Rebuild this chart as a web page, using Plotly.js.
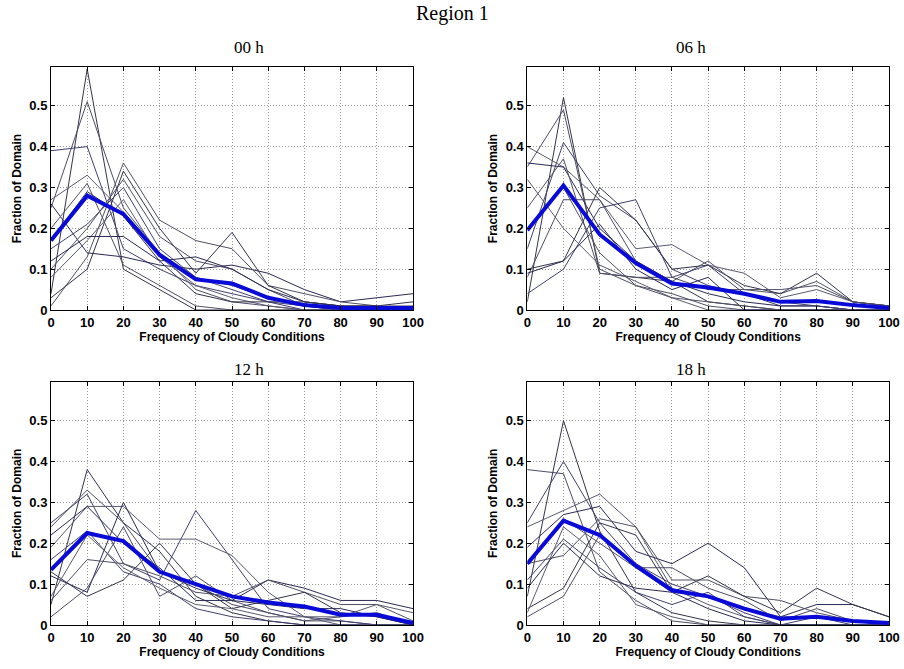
<!DOCTYPE html>
<html><head><meta charset="utf-8">
<script src="https://cdn.plot.ly/plotly-3.0.1.min.js"></script>
<style>html,body{margin:0;padding:0;background:#fff}#chart{width:904px;height:669px}</style>
</head><body><div id="chart"></div>
<script>
const xVals = [0,10,20,30,40,50,60,70,80,90,100];
const panelTitles = ["00 h","06 h","12 h","18 h"];

const lines00 = [
 [0.04,0.59,0.10,0.05,0.00,0.00,0.00,0.00,0.00,0.00,0.00],
 [0.25,0.51,0.25,0.14,0.05,0.02,0.01,0.00,0.00,0.00,0.00],
 [0.39,0.40,0.15,0.10,0.06,0.04,0.02,0.01,0.00,0.00,0.00],
 [0.27,0.33,0.24,0.14,0.08,0.06,0.03,0.01,0.00,0.00,0.00],
 [0.26,0.14,0.13,0.11,0.10,0.11,0.09,0.05,0.02,0.03,0.04],
 [0.01,0.13,0.36,0.22,0.17,0.15,0.06,0.04,0.02,0.01,0.01],
 [0.03,0.10,0.34,0.20,0.09,0.19,0.06,0.02,0.01,0.00,0.00],
 [0.10,0.20,0.32,0.18,0.12,0.10,0.05,0.01,0.00,0.00,0.00],
 [0.15,0.21,0.30,0.15,0.08,0.05,0.02,0.00,0.00,0.00,0.00],
 [0.08,0.17,0.27,0.13,0.06,0.03,0.01,0.00,0.00,0.00,0.00],
 [0.12,0.18,0.18,0.12,0.13,0.10,0.05,0.02,0.01,0.01,0.00],
 [0.20,0.31,0.11,0.06,0.01,0.00,0.00,0.00,0.00,0.00,0.00],
 [0.17,0.29,0.23,0.12,0.04,0.02,0.02,0.02,0.01,0.01,0.02]
];
const mean00 = [0.17,0.28,0.235,0.135,0.075,0.065,0.03,0.012,0.005,0.005,0.005];

const lines06 = [
 [0.02,0.52,0.09,0.08,0.07,0.02,0.01,0.00,0.00,0.00,0.00],
 [0.35,0.49,0.10,0.06,0.04,0.01,0.00,0.00,0.00,0.00,0.00],
 [0.15,0.41,0.28,0.22,0.10,0.06,0.04,0.01,0.01,0.00,0.00],
 [0.40,0.35,0.27,0.15,0.16,0.11,0.09,0.03,0.05,0.02,0.01],
 [0.36,0.35,0.20,0.12,0.07,0.04,0.02,0.01,0.01,0.00,0.00],
 [0.25,0.37,0.09,0.08,0.08,0.05,0.05,0.04,0.07,0.02,0.01],
 [0.10,0.12,0.30,0.22,0.10,0.11,0.06,0.04,0.09,0.02,0.01],
 [0.08,0.27,0.27,0.12,0.07,0.12,0.05,0.05,0.06,0.02,0.01],
 [0.04,0.10,0.25,0.27,0.08,0.11,0.04,0.02,0.01,0.00,0.00],
 [0.32,0.20,0.11,0.07,0.03,0.00,0.00,0.00,0.00,0.00,0.00],
 [0.09,0.12,0.21,0.10,0.05,0.08,0.00,0.00,0.00,0.00,0.00],
 [0.20,0.30,0.14,0.06,0.03,0.02,0.01,0.00,0.00,0.00,0.00]
];
const mean06 = [0.195,0.305,0.185,0.115,0.065,0.055,0.04,0.02,0.022,0.012,0.005];

const lines12 = [
 [0.05,0.38,0.25,0.18,0.07,0.03,0.01,0.00,0.00,0.00,0.00],
 [0.24,0.33,0.25,0.13,0.10,0.05,0.03,0.01,0.01,0.00,0.00],
 [0.25,0.32,0.15,0.11,0.28,0.16,0.04,0.02,0.01,0.00,0.00],
 [0.19,0.29,0.29,0.21,0.21,0.17,0.08,0.02,0.00,0.00,0.00],
 [0.12,0.08,0.30,0.13,0.09,0.06,0.11,0.09,0.06,0.06,0.04],
 [0.06,0.16,0.15,0.12,0.08,0.07,0.11,0.08,0.05,0.05,0.01],
 [0.13,0.07,0.11,0.20,0.10,0.04,0.06,0.08,0.03,0.02,0.00],
 [0.02,0.09,0.24,0.07,0.12,0.06,0.03,0.01,0.02,0.03,0.00],
 [0.16,0.23,0.13,0.10,0.04,0.02,0.01,0.00,0.00,0.00,0.00],
 [0.07,0.22,0.14,0.09,0.05,0.04,0.02,0.02,0.02,0.05,0.03],
 [0.22,0.29,0.20,0.14,0.06,0.06,0.05,0.04,0.04,0.02,0.00]
];
const mean12 = [0.135,0.225,0.205,0.13,0.10,0.07,0.055,0.045,0.025,0.025,0.005];

const lines18 = [
 [0.07,0.50,0.23,0.08,0.03,0.01,0.00,0.00,0.00,0.00,0.00],
 [0.38,0.37,0.13,0.06,0.01,0.00,0.00,0.00,0.00,0.00,0.00],
 [0.25,0.40,0.25,0.15,0.10,0.07,0.03,0.00,0.00,0.00,0.00],
 [0.24,0.28,0.32,0.24,0.09,0.05,0.02,0.00,0.00,0.00,0.00],
 [0.19,0.27,0.29,0.18,0.15,0.20,0.14,0.02,0.05,0.05,0.02],
 [0.15,0.17,0.26,0.24,0.11,0.11,0.07,0.06,0.03,0.01,0.00],
 [0.04,0.09,0.25,0.22,0.08,0.12,0.07,0.03,0.09,0.05,0.02],
 [0.02,0.07,0.22,0.14,0.14,0.09,0.06,0.01,0.04,0.01,0.00],
 [0.11,0.21,0.14,0.08,0.05,0.08,0.02,0.00,0.02,0.00,0.00],
 [0.03,0.24,0.17,0.05,0.02,0.00,0.00,0.00,0.00,0.00,0.00],
 [0.09,0.20,0.12,0.09,0.08,0.04,0.01,0.00,0.00,0.00,0.00],
 [0.15,0.26,0.20,0.14,0.08,0.07,0.04,0.02,0.02,0.01,0.00]
];
const mean18 = [0.15,0.255,0.22,0.145,0.085,0.07,0.04,0.015,0.02,0.01,0.005];

const panels = [
  {lines: lines00, mean: mean00, xa: 'x',  ya: 'y'},
  {lines: lines06, mean: mean06, xa: 'x2', ya: 'y2'},
  {lines: lines12, mean: mean12, xa: 'x3', ya: 'y3'},
  {lines: lines18, mean: mean18, xa: 'x4', ya: 'y4'}
];
const thinColors = ['#33334a','#4d4d66','#40406e','#5a5a70','#2a2a55','#505062'];

const traces = [];
panels.forEach(p => {
  p.lines.forEach((ys, i) => {
    traces.push({x: xVals, y: ys, xaxis: p.xa, yaxis: p.ya, type: 'scatter', mode: 'lines',
      line: {color: thinColors[i % thinColors.length], width: 1}, hoverinfo: 'skip', showlegend: false});
  });
  traces.push({x: xVals, y: p.mean, xaxis: p.xa, yaxis: p.ya, type: 'scatter', mode: 'lines',
    line: {color: '#0a0ad8', width: 4}, showlegend: false});
});

const xDomL = [0.0564, 0.4569], xDomR = [0.5833, 0.9834];
const yDomT = [0.5366, 0.8999], yDomB = [0.0658, 0.4294];
const tickFont = {family: 'Liberation Sans, Arial, sans-serif', size: 13, color: '#000', weight: 'bold'};
const titleFont = {family: 'Liberation Sans, Arial, sans-serif', size: 12, color: '#000', weight: 'bold'};

function xax(dom, anchor) {
  return {domain: dom, anchor: anchor, range: [0, 100], tickmode: 'array', tickvals: xVals,
    ticks: 'inside', ticklen: 4, tickcolor: '#000', showline: true, linecolor: '#000', linewidth: 1, mirror: 'ticks',
    showgrid: true, gridcolor: '#9a9a9a', griddash: '1px,2px', gridwidth: 1, zeroline: false,
    tickfont: tickFont, title: {text: 'Frequency of Cloudy Conditions', font: titleFont, standoff: 1}};
}
function yax(dom, anchor) {
  return {domain: dom, anchor: anchor, range: [0, 0.595], tickmode: 'array',
    tickvals: [0,0.1,0.2,0.3,0.4,0.5], ticktext: ['0','0.1','0.2','0.3','0.4','0.5'],
    ticks: 'inside', ticklen: 4, tickcolor: '#000', showline: true, linecolor: '#000', linewidth: 1, mirror: 'ticks',
    showgrid: true, gridcolor: '#9a9a9a', griddash: '1px,2px', gridwidth: 1, zeroline: false,
    tickfont: tickFont, title: {text: 'Fraction of Domain', font: titleFont, standoff: 5}};
}

const serif = {family: 'Liberation Serif, Times New Roman, serif', size: 17, color: '#000'};
const annotations = [
  {text: 'Region 1', x: 0.5, y: 1 - 13/669, xref: 'paper', yref: 'paper', showarrow: false, xanchor: 'center', yanchor: 'middle',
   font: {family: 'Liberation Serif, Times New Roman, serif', size: 20, color: '#000'}},
  {text: panelTitles[0], x: (xDomL[0]+xDomL[1])/2, y: 1 - 47/669, xref: 'paper', yref: 'paper', showarrow: false, yanchor: 'middle', font: serif},
  {text: panelTitles[1], x: (xDomR[0]+xDomR[1])/2, y: 1 - 47/669, xref: 'paper', yref: 'paper', showarrow: false, yanchor: 'middle', font: serif},
  {text: panelTitles[2], x: (xDomL[0]+xDomL[1])/2, y: 1 - 369/669, xref: 'paper', yref: 'paper', showarrow: false, yanchor: 'middle', font: serif},
  {text: panelTitles[3], x: (xDomR[0]+xDomR[1])/2, y: 1 - 369/669, xref: 'paper', yref: 'paper', showarrow: false, yanchor: 'middle', font: serif}
];

const layout = {
  width: 904, height: 669, margin: {l: 0, r: 0, t: 0, b: 0},
  paper_bgcolor: '#fff', plot_bgcolor: '#fff', showlegend: false,
  xaxis: xax(xDomL, 'y'), yaxis: yax(yDomT, 'x'),
  xaxis2: xax(xDomR, 'y2'), yaxis2: yax(yDomT, 'x2'),
  xaxis3: xax(xDomL, 'y3'), yaxis3: yax(yDomB, 'x3'),
  xaxis4: xax(xDomR, 'y4'), yaxis4: yax(yDomB, 'x4'),
  annotations: annotations
};
Plotly.newPlot('chart', traces, layout, {displayModeBar: false, staticPlot: true});
</script></body></html>
